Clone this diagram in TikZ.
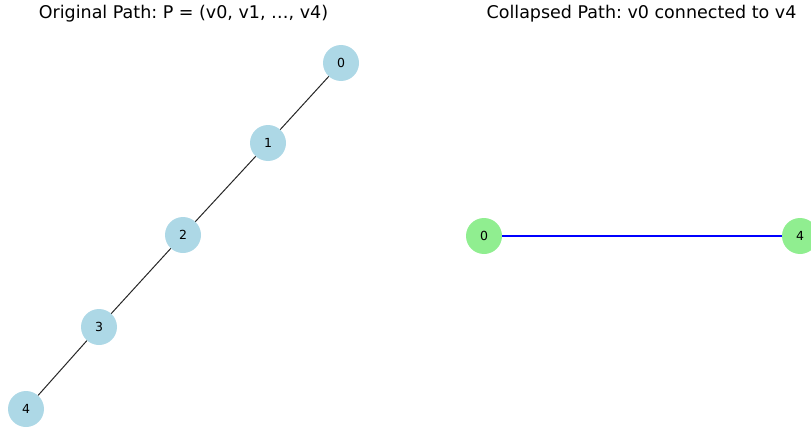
\documentclass[tikz,border=0pt]{standalone}
\usepackage{fontspec}
\setmainfont{DejaVu Sans}
\usepackage{xcolor}
\usepackage{tikz}
\definecolor{PathBlue}{HTML}{ADD8E6}
\definecolor{PathGreen}{HTML}{90EE90}
\frenchspacing

\begin{document}
\begin{tikzpicture}[x = 1pt, y = -1pt,
    vertex/.style = {circle, minimum size = 36pt, inner sep = 0pt, font = \fontsize{12.5}{13}\selectfont},
    title/.style = {font = \fontsize{17.5}{20}\selectfont}]
\useasboundingbox (0,0) rectangle (811,428);
\clip (0,0) rectangle (811,428);

  % original path
\begin{scope}
    \node[title] (t1) at (183.5,14) {Original Path: P = (v0, v1, …, v4)};
    \node[vertex, fill = PathBlue] (a0) at (341,63) {0};
    \node[vertex, fill = PathBlue] (a1) at (268,143) {1};
    \node[vertex, fill = PathBlue] (a2) at (183,235) {2};
    \node[vertex, fill = PathBlue] (a3) at (99,327) {3};
    \node[vertex, fill = PathBlue] (a4) at (26,409) {4};
    \draw[line width = 1pt, black!85] (a0) -- (a1) -- (a2) -- (a3) -- (a4);
\end{scope}

  % collapsed path
\begin{scope}
    \node[title] (t2) at (641.5,14) {Collapsed Path: v0 connected to v4};
    \node[vertex, fill = PathGreen] (b0) at (484,236) {0};
    \node[vertex, fill = PathGreen] (b4) at (800,236) {4};
    \draw[line width = 2pt, blue] (b0) -- (b4);
\end{scope}

\end{tikzpicture}
\end{document}
